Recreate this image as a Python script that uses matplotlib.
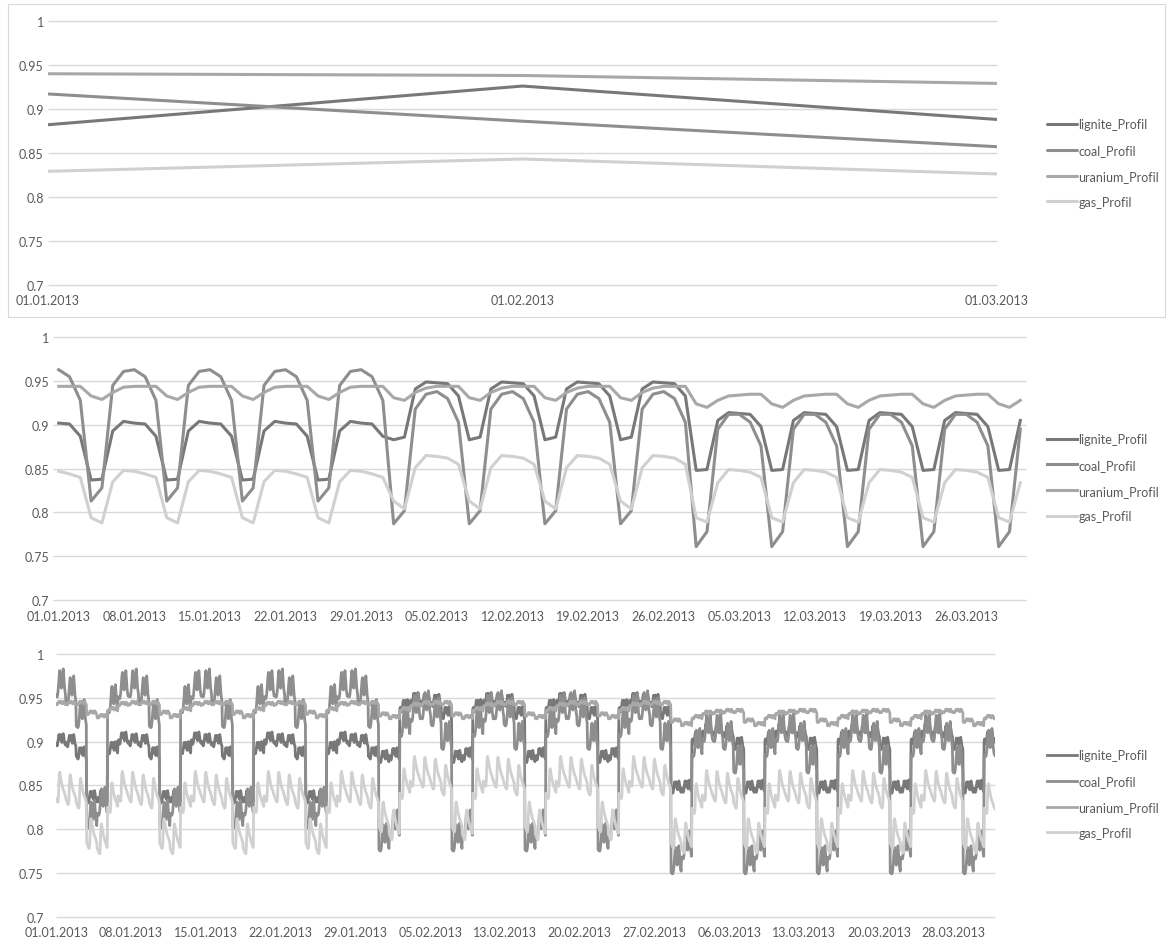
import numpy as np
import pandas as pd
import matplotlib
matplotlib.use('Agg')
import matplotlib.pyplot as plt
from matplotlib.patches import Rectangle

plt.rcParams['font.family'] = ['Lato', 'DejaVu Sans']

W, H = 1171, 945
DPI = 100

names = ['lignite_Profil', 'coal_Profil', 'uranium_Profil', 'gas_Profil']
colors = ['#787878', '#8e8e8e', '#a8a8a8', '#d0d0d0']
text_col = '#595959'
grid_col = '#d9d9d9'
FS = 9

y_ticks = [0.7, 0.75, 0.8, 0.85, 0.9, 0.95, 1.0]
y_labels = ['0.7', '0.75', '0.8', '0.85', '0.9', '0.95', '1']

# --- chart 1: monthly means
month_labels = ['01.01.2013', '01.02.2013', '01.03.2013']
lignite_month = [0.882, 0.926, 0.888]
coal_month = [0.917, 0.886, 0.857]
uranium_month = [0.940, 0.938, 0.929]
gas_month = [0.829, 0.843, 0.826]

# --- chart 2: daily level by weekday (Mon..Sun), one row per month (Jan, Feb, Mar)
lignite_week = [[0.904, 0.902, 0.901, 0.887, 0.837, 0.838, 0.893],
                [0.949, 0.948, 0.947, 0.933, 0.883, 0.886, 0.941],
                [0.914, 0.913, 0.912, 0.898, 0.848, 0.849, 0.905]]
coal_week = [[0.961, 0.963, 0.955, 0.928, 0.813, 0.828, 0.945],
             [0.935, 0.938, 0.930, 0.903, 0.787, 0.802, 0.918],
             [0.912, 0.912, 0.903, 0.876, 0.761, 0.778, 0.895]]
uranium_week = [[0.943, 0.944, 0.944, 0.944, 0.933, 0.929, 0.937],
                [0.942, 0.944, 0.944, 0.944, 0.931, 0.928, 0.937],
                [0.933, 0.934, 0.935, 0.935, 0.924, 0.920, 0.928]]
gas_week = [[0.848, 0.847, 0.844, 0.840, 0.794, 0.788, 0.835],
            [0.865, 0.864, 0.862, 0.855, 0.813, 0.804, 0.851],
            [0.849, 0.848, 0.846, 0.840, 0.794, 0.789, 0.834]]
day_labels = ['01.01.2013', '08.01.2013', '15.01.2013', '22.01.2013', '29.01.2013',
              '05.02.2013', '12.02.2013', '19.02.2013', '26.02.2013', '05.03.2013',
              '12.03.2013', '19.03.2013', '26.03.2013']

# --- chart 3: hourly deviation from the day level (hour 0..23)
lignite_hour = [-0.004, -0.006, -0.007, -0.005, -0.001, 0.003, 0.006, 0.004, 0.000, 0.003, 0.006, 0.004,
                0.000, -0.003, 0.001, 0.005, 0.007, 0.004, 0.000, -0.003, -0.005, -0.006, -0.004, -0.002]
coal_hour = [-0.010, -0.012, -0.012, -0.010, -0.006, 0.000, 0.008, 0.014, 0.018, 0.010, 0.004, 0.000,
             -0.002, 0.004, 0.010, 0.016, 0.020, 0.012, 0.004, -0.002, -0.006, -0.009, -0.010, -0.011]
uranium_hour = [-0.001, -0.002, -0.002, -0.001, 0.000, 0.001, 0.002, 0.002, 0.001, 0.000, 0.001, 0.002,
                0.001, 0.000, -0.001, 0.000, 0.001, 0.002, 0.001, 0.000, -0.001, -0.002, -0.002, -0.001]
gas_hour = [-0.012, -0.014, -0.015, -0.016, -0.016, -0.010, 0.006, 0.016, 0.018, 0.015, 0.012, 0.009,
            0.006, 0.004, 0.002, 0.000, -0.002, -0.003, -0.004, -0.006, -0.008, -0.009, -0.010, -0.011]
hour_labels = ['01.01.2013', '08.01.2013', '15.01.2013', '22.01.2013', '29.01.2013',
               '05.02.2013', '13.02.2013', '20.02.2013', '27.02.2013', '06.03.2013',
               '13.03.2013', '20.03.2013', '28.03.2013']
hour_label_step = 172

# build daily series from the weekday tables
days = pd.date_range('2013-01-01', '2013-03-31', freq='D')
wd = days.dayofweek.values
mo = days.month.values - 1
daily = [np.array([tab[m][d] for m, d in zip(mo, wd)])
         for tab in (lignite_week, coal_week, uranium_week, gas_week)]

# hourly: day level (switching at 22:00) plus the intraday shape
hours = pd.date_range('2013-01-01', periods=len(days) * 24, freq='h')
day_idx = np.minimum(((hours + pd.Timedelta(hours=2)).normalize() - days[0]).days.values, len(days) - 1)
hod = hours.hour.values
hourly = [d[day_idx] + np.array(sh)[hod]
          for d, sh in zip(daily, (lignite_hour, coal_hour, uranium_hour, gas_hour))]

fig = plt.figure(figsize=(W / DPI, H / DPI), dpi=DPI)


def make_ax(left, top, right, bottom):
    return fig.add_axes([left / W, 1 - bottom / H, (right - left) / W, (bottom - top) / H])


def style(ax, xlim, ypad):
    ax.set_ylim(0.7, 1.0)
    ax.set_xlim(*xlim)
    for s in ax.spines.values():
        s.set_visible(False)
    ax.set_yticks(y_ticks)
    ax.set_yticklabels(y_labels)
    ax.hlines(y_ticks, xlim[0], xlim[1], color=grid_col, lw=1.0, zorder=0, clip_on=False)
    ax.tick_params(length=0, labelsize=FS, labelcolor=text_col)
    ax.tick_params(axis='y', pad=ypad)
    ax.tick_params(axis='x', pad=7)


def legend(ax, y_center):
    ax.legend(loc='center left', bbox_to_anchor=(1047 / W, 1 - y_center / H),
              bbox_transform=fig.transFigure, frameon=False, fontsize=FS,
              labelcolor=text_col, handlelength=2.4, handletextpad=0.12,
              labelspacing=1.1, borderpad=0, borderaxespad=0)


# chart 1
ax1 = make_ax(48, 22, 997, 285.7)
x1 = np.arange(len(month_labels))
for vals, c, n in zip((lignite_month, coal_month, uranium_month, gas_month), colors, names):
    ax1.plot(x1, vals, color=c, lw=2.2, label=n, solid_capstyle='round')
style(ax1, (0, len(month_labels) - 1), 3)
ax1.set_xticks(x1)
ax1.set_xticklabels(month_labels)
legend(ax1, 164)
fig.add_artist(Rectangle((8 / W, 1 - 318 / H), 1157 / W, 313 / H, transform=fig.transFigure,
                         fill=False, ec=grid_col, lw=0.8))

# chart 2
ax2 = make_ax(53.3, 338.3, 1025.7, 601)
x2 = np.arange(len(days))
for vals, c, n in zip(daily, colors, names):
    ax2.plot(x2, vals, color=c, lw=2.2, label=n)
style(ax2, (-0.5, len(days) - 0.5), 3)
ax2.set_xticks(np.arange(0, len(days), 7))
ax2.set_xticklabels(day_labels)
legend(ax2, 478.7)

# chart 3
ax3 = make_ax(56.3, 655, 995, 917.7)
x3 = np.arange(len(hours))
for vals, c, n in zip(hourly, colors, names):
    ax3.plot(x3, vals, color=c, lw=2.0, label=n)
style(ax3, (0, len(hours) - 1), 9)
ax3.set_xticks(np.arange(len(hour_labels)) * hour_label_step)
ax3.set_xticklabels(hour_labels)
legend(ax3, 795)

fig.savefig('out.png', dpi=DPI, facecolor='white')
